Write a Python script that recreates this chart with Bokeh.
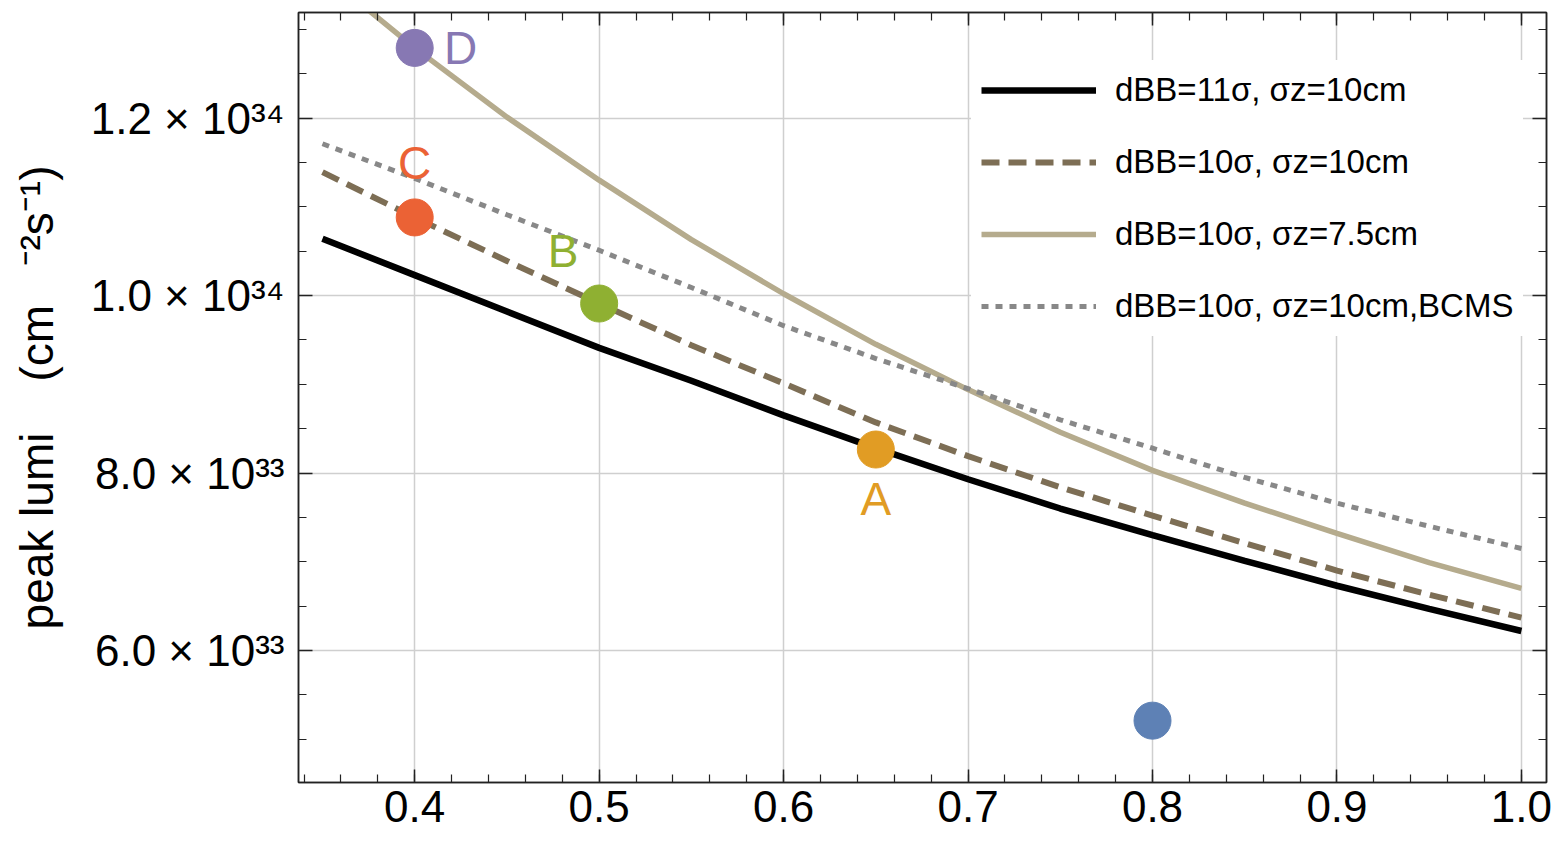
from bokeh.plotting import figure
from bokeh.models import (Range1d, FixedTicker, LinearAxis, Legend, LegendItem,
                          ColumnDataSource, CustomJSTickFormatter)
from bokeh.core.properties import value
from bokeh.embed import file_html
from bokeh.resources import INLINE
import numpy as np

# ---------------- data (luminosity in units of 1e33 cm^-2 s^-1) ----------------
beta = [0.35, 0.40, 0.45, 0.50, 0.55, 0.60, 0.65, 0.70, 0.75, 0.80, 0.85, 0.90, 0.95, 1.00]
lumi_d11_sz10 = [10.64, 10.23, 9.82, 9.41, 9.04, 8.65, 8.28, 7.93, 7.60, 7.30, 7.01, 6.73, 6.47, 6.22]
lumi_d10_sz10 = [11.39, 10.88, 10.39, 9.91, 9.44, 9.01, 8.57, 8.19, 7.84, 7.52, 7.21, 6.90, 6.63, 6.37]
lumi_d10_sz75 = [13.64, 12.79, 12.01, 11.30, 10.63, 10.02, 9.45, 8.94, 8.46, 8.03, 7.66, 7.32, 6.99, 6.70]
lumi_d10_bcms = [11.71, 11.32, 10.91, 10.51, 10.09, 9.66, 9.29, 8.95, 8.60, 8.28, 7.95, 7.66, 7.40, 7.15]

series_labels = ["dBB=11σ, σz=10cm", "dBB=10σ, σz=10cm",
                 "dBB=10σ, σz=7.5cm", "dBB=10σ, σz=10cm,BCMS"]

point_beta = [0.65, 0.50, 0.40, 0.40, 0.80]
point_lumi = [8.265, 9.91, 10.88, 12.79, 5.21]
point_names = ["A", "B", "C", "D", ""]

x_ticks = [0.4, 0.5, 0.6, 0.7, 0.8, 0.9, 1.0]
x_tick_labels = ["0.4", "0.5", "0.6", "0.7", "0.8", "0.9", "1.0"]
y_ticks = [6, 8, 10, 12]
y_tick_labels = ["6.0 × 10³³", "8.0 × 10³³", "1.0 × 10³⁴", "1.2 × 10³⁴"]
y_title = "peak lumi\u00a0\u00a0\u00a0\u00a0(cm\u00a0\u00a0\u00a0⁻²s⁻¹)"

# ---------------- styles ----------------
point_colors = ["#E19C24", "#8FB032", "#EB6235", "#8778B3", "#5E81B5"]
label_dx = [0, -36, 0, 46, 0]
label_dy = [49, -53, -54, 0, 0]
FONT = "Liberation Sans"
AX = "#222222"

p = figure(width=1556, height=841, output_backend="svg", toolbar_location=None,
           x_range=Range1d(0.337, 1.0136), y_range=Range1d(4.513, 13.189),
           min_border_left=298, min_border_right=10, min_border_top=12, min_border_bottom=59,
           background_fill_color="white", border_fill_color="white")
p.outline_line_color = AX
p.outline_line_width = 1.5

xminor = list(np.round(np.arange(0.34, 1.011, 0.02), 2))
yminor = list(np.round(np.arange(4.5, 13.3, 0.5), 1))
xt = FixedTicker(ticks=x_ticks, minor_ticks=xminor)
yt = FixedTicker(ticks=y_ticks, minor_ticks=yminor)

for ax in (p.xaxis[0], p.yaxis[0]):
    ax.axis_line_color = AX
    ax.axis_line_width = 1.5
    ax.major_tick_line_color = AX
    ax.minor_tick_line_color = AX
    ax.major_tick_line_width = 1.5
    ax.minor_tick_line_width = 1.2
    ax.major_tick_out = 0
    ax.minor_tick_out = 0
    ax.minor_tick_in = 8
    ax.major_label_text_font = FONT
    ax.major_label_text_color = "black"
    ax.major_label_text_font_size = "44px"

p.xaxis[0].ticker = xt
p.xaxis[0].major_tick_in = 13
p.xaxis[0].major_label_overrides = {t: l for t, l in zip(x_ticks, x_tick_labels)}
p.xaxis[0].major_label_standoff = 8

p.yaxis[0].ticker = yt
p.yaxis[0].major_tick_in = 14
p.yaxis[0].major_label_overrides = {t: l for t, l in zip(y_ticks, y_tick_labels)}
p.yaxis[0].major_label_standoff = 14
p.yaxis[0].axis_label = y_title
p.yaxis[0].axis_label_text_font = FONT
p.yaxis[0].axis_label_text_font_size = "46px"
p.yaxis[0].axis_label_text_font_style = "normal"
p.yaxis[0].axis_label_text_color = "black"
p.yaxis[0].axis_label_standoff = 25

blank = CustomJSTickFormatter(code="return ''")
common = dict(formatter=blank, major_tick_out=0, minor_tick_in=8, minor_tick_out=0,
              major_label_standoff=0, axis_line_color=AX, axis_line_width=1.5,
              major_tick_line_color=AX, minor_tick_line_color=AX,
              major_tick_line_width=1.5, minor_tick_line_width=1.2)
p.add_layout(LinearAxis(ticker=xt, major_tick_in=13, **common), "above")
p.add_layout(LinearAxis(ticker=yt, major_tick_in=14, **common), "right")

p.xgrid.ticker = xt
p.ygrid.ticker = yt
p.grid.grid_line_color = "#cfcfcf"
p.grid.grid_line_width = 1.5

r1 = p.line(beta, lumi_d11_sz10, line_color="black", line_width=6.5)
r2 = p.line(beta, lumi_d10_sz10, line_color="#7D6E55", line_width=6, line_dash="18 9")
r3 = p.line(beta, lumi_d10_sz75, line_color="#B5AB8D", line_width=5.5)
r4 = p.line(beta, lumi_d10_bcms, line_color="#888888", line_width=5, line_dash="7 7")

psrc = ColumnDataSource(dict(x=point_beta, y=point_lumi, name=point_names,
                             color=point_colors, dx=label_dx, dy=label_dy))
p.scatter("x", "y", source=psrc, size=37, fill_color="color", line_color="color")
p.text("x", "y", text="name", source=psrc, x_offset="dx", y_offset="dy",
       text_color="color", text_font=value(FONT), text_font_size="46px",
       text_align="center", text_baseline="middle")

legend = Legend(items=[LegendItem(label=series_labels[i], renderers=[r])
                       for i, r in enumerate([r1, r2, r3, r4])],
                location=(673, 446), glyph_width=115, glyph_height=40, label_height=40,
                label_standoff=19, spacing=32, padding=10, margin=0,
                border_line_alpha=0, background_fill_color="white", background_fill_alpha=1,
                label_text_font=FONT, label_text_font_size="33px", label_text_color="black")
p.add_layout(legend)

open("out.html", "w").write(file_html(p, INLINE))
